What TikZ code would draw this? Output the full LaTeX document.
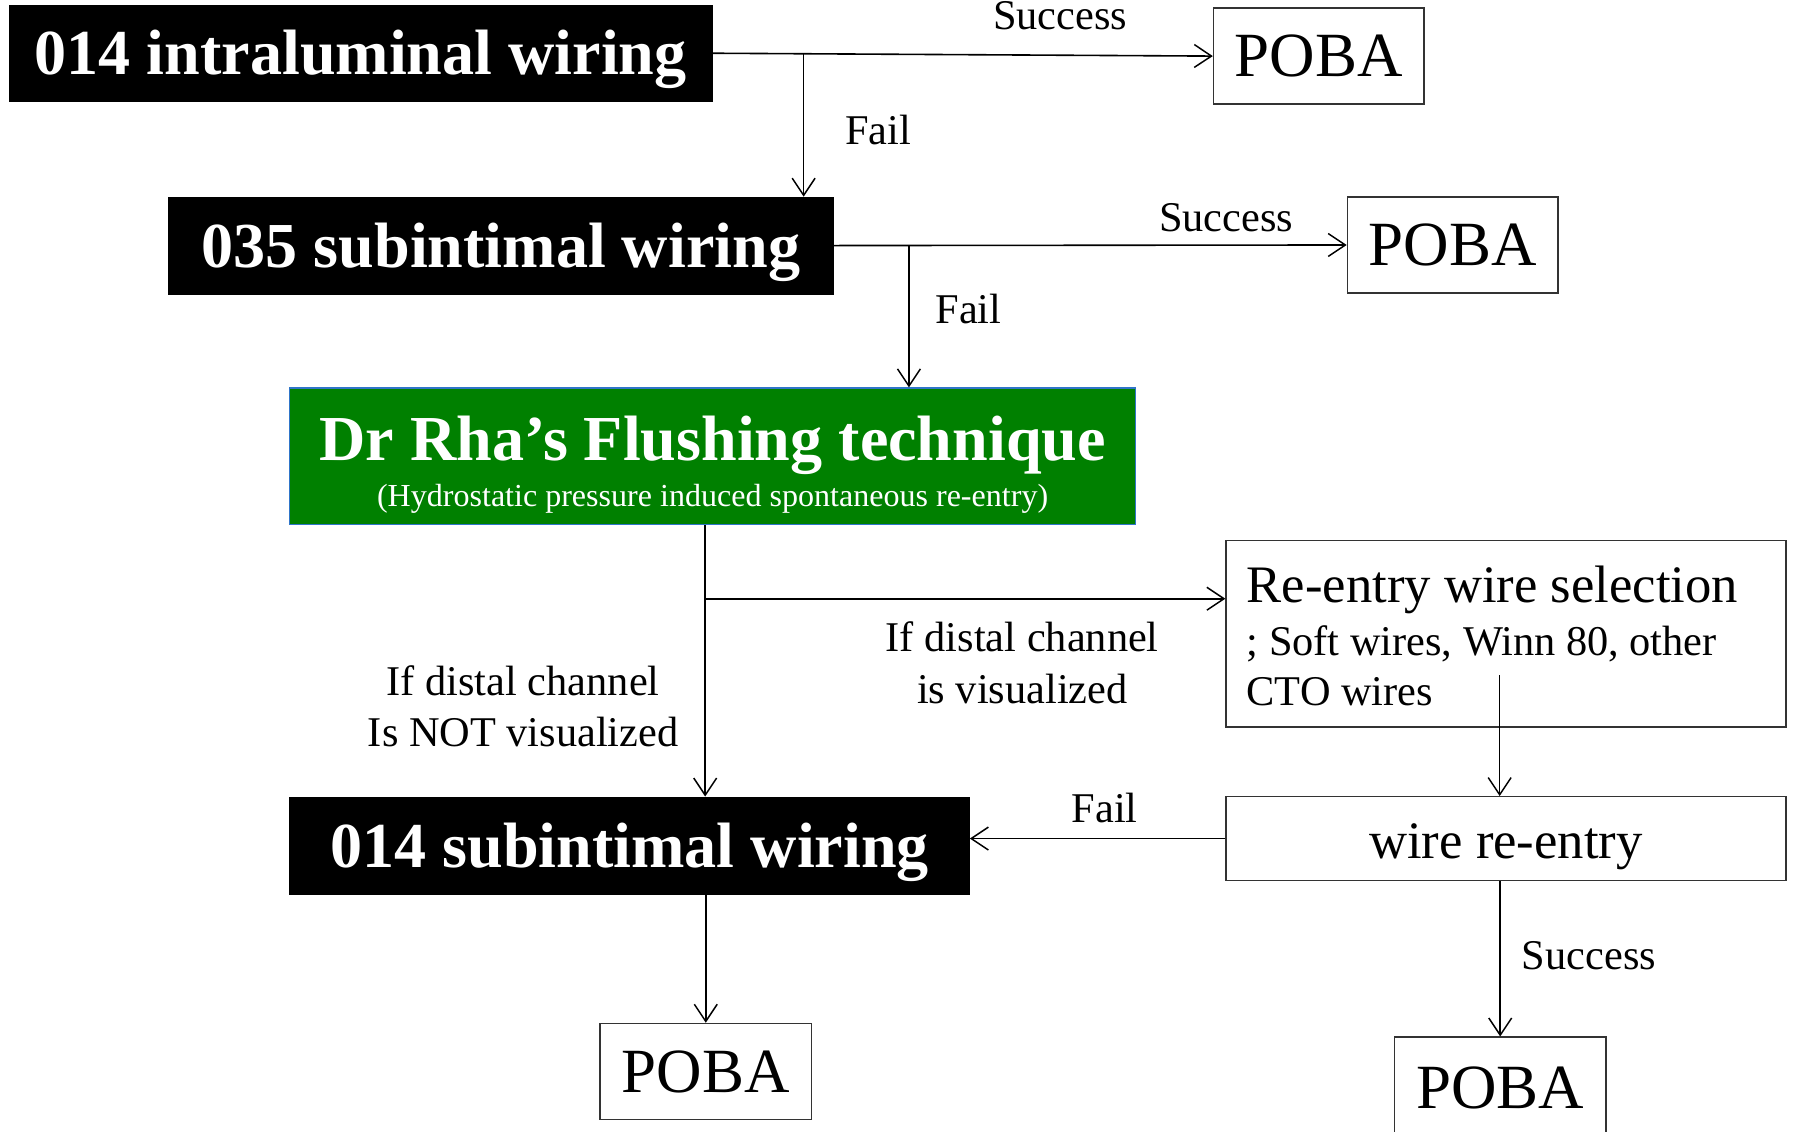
\documentclass[tikz,border=0pt]{standalone}
\usepackage{fontspec}
\setmainfont{Liberation Serif}
\usetikzlibrary{arrows.meta}
\definecolor{flushgreen}{RGB}{0,128,0}
\definecolor{flushborder}{RGB}{47,117,200}
\begin{document}
\begin{tikzpicture}[x=1pt,y=-1pt,
  arr/.style={-{Straight Barb[length=15pt,width=20pt,line width=1.3pt]}, line width=1.4pt},
  darkbox/.style={fill=black, draw=black, text=white, font=\fontsize{56}{60}\selectfont\bfseries, inner sep=0pt, text height=38pt, text depth=0pt},
  pobabox/.style={draw=black!80, line width=1.2pt, font=\fontsize{55}{60}\selectfont, minimum width=184pt, minimum height=84pt, inner sep=0pt},
  plainbox/.style={draw=black!80, line width=1.2pt, inner sep=0pt},
  lbl/.style={font=\fontsize{37}{45}\selectfont, inner sep=0pt, align=center}
]
\useasboundingbox (0,0) rectangle (1568,988);

% boxes
\node[darkbox, minimum width=614pt, minimum height=83pt] (b1) at (315,46.5) {014 intraluminal wiring};
\node[pobabox] (p1) at (1152,49) {POBA};
\node[darkbox, minimum width=581pt, minimum height=85pt] (b2) at (437.5,214.5) {035 subintimal wiring};
\node[pobabox] (p2) at (1269,214) {POBA};
\node[fill=flushgreen, draw=flushborder, line width=1.2pt, text=white, minimum width=739pt, minimum height=119pt, inner sep=0pt, align=center, font=\fontsize{28}{40}\selectfont] (g) at (622.5,398.5)
  {{\fontsize{56}{40}\selectfont\bfseries\rule{0pt}{54pt}Dr Rha’s Flushing technique}\\(Hydrostatic pressure induced spontaneous re-entry)};
\node[plainbox, minimum width=489pt, minimum height=163pt, inner xsep=18pt, text width=453pt, align=flush left, font=\fontsize{37}{44}\selectfont] (re) at (1315.5,553.5)
  {{\fontsize{46}{44}\selectfont\rule{0pt}{36pt}Re-entry wire selection}\\[2pt]; Soft wires, Winn 80, other\\CTO wires};
\node[plainbox, minimum width=489pt, minimum height=73pt, font=\fontsize{46}{50}\selectfont, text height=35pt, text depth=0pt] (wr) at (1315.5,732.5) {wire re-entry};
\node[darkbox, minimum width=594pt, minimum height=85pt] (b3) at (550,738.5) {014 subintimal wiring};
\node[pobabox, minimum width=185pt] (p3) at (616.5,936) {POBA};
\node[pobabox, minimum width=185pt, minimum height=88pt] (p4) at (1310.5,950) {POBA};

% labels
\node[lbl] (sc1) at (926,14) {Success};
\node[lbl] (f1) at (767,114) {Fail};
\node[lbl] (sc2) at (1071,190) {Success};
\node[lbl] (f2) at (846,270) {Fail};
\node[lbl] (vis) at (893,579) {If distal channel\\is visualized};
\node[lbl] (nvis) at (457,617) {If distal channel\\Is NOT visualized};
\node[lbl] (f3) at (965,706) {Fail};
\node[lbl] (sc3) at (1388,835) {Success};

% connectors
\coordinate (j1) at (702,46.8);
\coordinate (j2) at (794,214.3);
\coordinate (gs) at ([xshift=-6.5pt]g.south);
\coordinate (j3) at (616,523);
\coordinate (reIn) at (1310,590);
\draw[arr] (b1.east) -- (p1.west);
\draw[arr] (j1) -- (j1 |- b2.north);
\draw[arr] (b2.east) -- (p2.west);
\draw[arr] (j2) -- (j2 |- g.north);
\draw[arr] (gs) -- (gs |- b3.north);
\draw[arr] (j3) -- (j3 -| re.west);
\draw[arr] (reIn) -- (reIn |- wr.north);
\draw[arr] (wr.west) -- (wr.west -| b3.east);
\draw[arr] (p3.north |- b3.south) -- (p3.north);
\draw[arr] (p4.north |- wr.south) -- (p4.north);
\end{tikzpicture}
\end{document}
